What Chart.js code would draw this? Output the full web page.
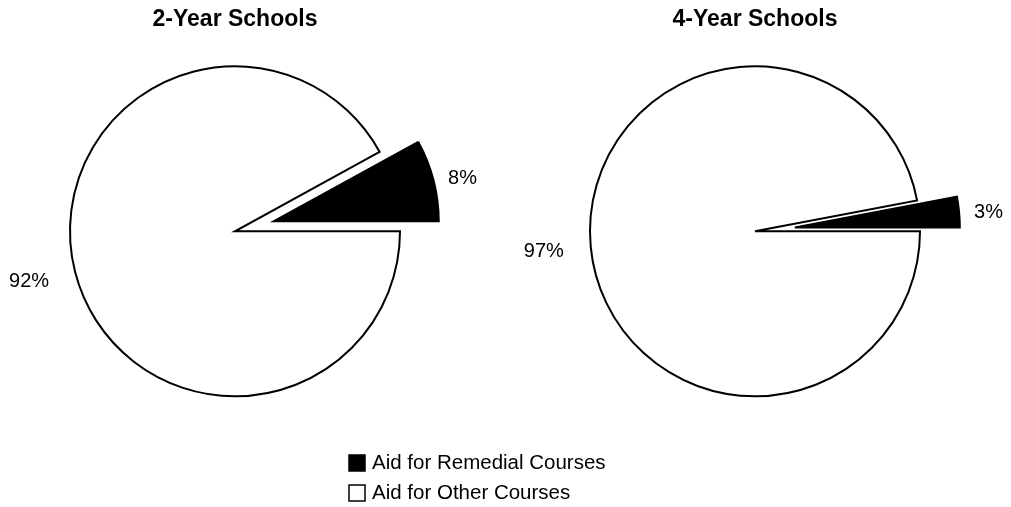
<!DOCTYPE html>
<html>
<head>
<meta charset="utf-8">
<title>Aid for Remedial Courses</title>
<script src="https://cdn.jsdelivr.net/npm/chart.js@4.4.1/dist/chart.umd.min.js"></script>
<style>
  body { margin: 0; background: #fff; }
  #wrap { position: relative; width: 1011px; height: 507px; }
  #wrap canvas { position: absolute; left: 0; top: 0; }
</style>
</head>
<body>
<div id="wrap">
  <canvas id="pieLeft" width="1011" height="507"></canvas>
  <canvas id="pieRight" width="1011" height="507"></canvas>
</div>
<script>
// data
var categories = ['Aid for Remedial Courses', 'Aid for Other Courses'];
var twoYearValues = [8, 92];
var fourYearValues = [3, 97];
var chartTitles = ['2-Year Schools', '4-Year Schools'];
var sliceColors = ['#000000', '#ffffff'];
var sliceExplode = [40, 0];

var fontFamily = 'Liberation Sans, Arial, sans-serif';

// pull slices out from the centre (chart.js' own offset also shrinks the angle)
var explodeSlices = {
    id: 'explodeSlices',
    afterDatasetUpdate: function(chart, args) {
        args.meta.data.forEach(function(arc, i) {
            var d = sliceExplode[i] || 0;
            if (!d) return;
            var mid = (arc.startAngle + arc.endAngle) / 2;
            arc.x += Math.cos(mid) * d;
            arc.y += Math.sin(mid) * d;
        });
    }
};

// percent labels outside each slice
var pctLabels = {
    id: 'pctLabels',
    afterDatasetsDraw: function(chart) {
        var ctx = chart.ctx;
        var meta = chart.getDatasetMeta(0);
        var values = chart.data.datasets[0].data;
        ctx.save();
        ctx.font = '20px ' + fontFamily;
        ctx.fillStyle = '#000';
        ctx.textBaseline = 'middle';
        meta.data.forEach(function(arc, i) {
            var mid = (arc.startAngle + arc.endAngle) / 2;
            var gap = sliceExplode[i] ? 15 : 27;
            var d = arc.outerRadius + gap;
            ctx.textAlign = Math.cos(mid) >= 0 ? 'left' : 'right';
            ctx.fillText(values[i] + '%', arc.x + Math.cos(mid) * d, arc.y + Math.sin(mid) * d + 2);
        });
        ctx.restore();
    }
};

// stacked legend under the two pies
var boxLegend = {
    id: 'boxLegend',
    afterDraw: function(chart) {
        var ctx = chart.ctx;
        ctx.save();
        ctx.font = '20.5px ' + fontFamily;
        ctx.textBaseline = 'middle';
        ctx.textAlign = 'left';
        categories.forEach(function(label, i) {
            var y = 463 + i * 30;
            ctx.fillStyle = sliceColors[i];
            ctx.fillRect(349, y - 8, 16, 16);
            ctx.strokeStyle = '#000';
            ctx.lineWidth = 1.5;
            ctx.strokeRect(349, y - 8, 16, 16);
            ctx.fillStyle = '#000';
            ctx.fillText(label, 372, y);
        });
        ctx.restore();
    }
};

function makePie(canvasId, title, values, padLeft, padRight, extraPlugins) {
    var ctx = document.getElementById(canvasId).getContext('2d');
    return new Chart(ctx, {
        type: 'pie',
        data: {
            labels: categories,
            datasets: [{
                data: values,
                backgroundColor: sliceColors,
                borderColor: '#000000',
                borderWidth: 2,
                borderJoinStyle: 'miter',
                clip: false
            }]
        },
        options: {
            responsive: false,
            animation: false,
            // first slice starts at 3 o'clock and runs upward
            rotation: 90 - values[0] * 3.6,
            radius: 165,
            layout: { padding: { left: padLeft, right: padRight, top: 0, bottom: 88 } },
            plugins: {
                legend: { display: false },
                tooltip: { enabled: false },
                title: {
                    display: true,
                    text: title,
                    color: '#000',
                    font: { family: fontFamily, size: 23, weight: 'bold' },
                    padding: { top: 6, bottom: 10 }
                }
            }
        },
        plugins: [explodeSlices, pctLabels].concat(extraPlugins)
    });
}

makePie('pieLeft', chartTitles[0], twoYearValues, 0, 541, [boxLegend]);
makePie('pieRight', chartTitles[1], fourYearValues, 520, 21, []);
</script>
</body>
</html>
